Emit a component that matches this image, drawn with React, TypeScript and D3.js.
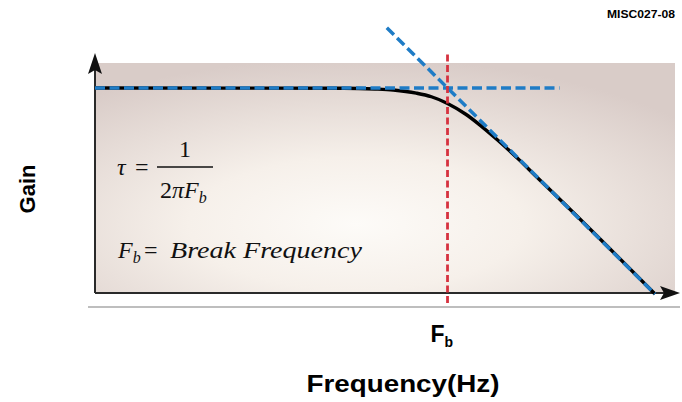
import React from 'react';
import * as d3 from 'd3';

// frequency as a ratio of the break frequency, gain in dB
const curveFreq = [0.0004, 0.1, 0.2, 0.3, 0.5, 0.7, 1, 1.5, 2, 3, 5, 7, 10, 100];
const curveGain = [0, -0.05, -0.2, -0.4, -1, -1.7, -3, -5.1, -7, -10, -14.1, -17, -20, -40];

const flatFreq = [0.0004, 12];
const flatGain = [0, 0];

const slopeFreq = [0.26, 100];
const slopeGain = [11.7, -40];

const breakFreq = 1;
const breakGainSpan = [6.5, -42];

const W = 682;
const H = 402;

const x = d3.scaleLog().domain([0.0004, 100]).range([95, 655]);
const y = d3.scaleLinear().domain([-40, 0]).range([294, 88]);

const line = d3
  .line<[number, number]>()
  .x((d) => x(d[0]))
  .y((d) => y(d[1]));

const zip = (a: number[], b: number[]) => a.map((v, i) => [v, b[i]] as [number, number]);

const BLUE = '#1f7cc6';
const RED = '#d6323f';
const serif = '"Liberation Serif", "Times New Roman", serif';
const sans = '"Liberation Sans", Arial, sans-serif';

const App: React.FC = () => {
  const curvePath = line.curve(d3.curveMonotoneX)(zip(curveFreq, curveGain)) || '';
  const flatPath = line.curve(d3.curveLinear)(zip(flatFreq, flatGain)) || '';
  const slopePath = line.curve(d3.curveLinear)(zip(slopeFreq, slopeGain)) || '';

  const left = 95;
  const right = 675;
  const top = 63;
  const bottom = 293;

  return (
    <svg width={W} height={H} style={{ position: 'absolute', left: 0, top: 0 }}>
      <defs>
        <radialGradient id="bg" cx="45%" cy="70%" r="72%">
          <stop offset="0" stopColor="#fdfbf8" />
          <stop offset="0.4" stopColor="#f6f0ea" />
          <stop offset="1" stopColor="#d9ccc8" />
        </radialGradient>
      </defs>

      <text x={675} y={18} textAnchor="end" fontFamily={sans} fontWeight="bold" fontSize={11}
        textLength={68} lengthAdjust="spacingAndGlyphs">MISC027-08</text>

      {/* plot background */}
      <rect x={left} y={top} width={right - left} height={bottom - top} fill="url(#bg)" />

      {/* gray rule under the plot */}
      <line x1={88} x2={680} y1={307} y2={307} stroke="#a8a8a8" strokeWidth={1.5} />

      {/* axes */}
      <line x1={left} x2={left} y1={bottom} y2={62} stroke="#2a2a2a" strokeWidth={2} />
      <path d={`M${left},53 L${left + 7},74 L${left},70 L${left - 7},74 Z`} fill="#111" />
      <line x1={left} x2={668} y1={bottom} y2={bottom} stroke="#2a2a2a" strokeWidth={2} />
      <path d={`M680,${bottom} L660,${bottom - 7} L664,${bottom} L660,${bottom + 7} Z`} fill="#111" />

      {/* response curve and asymptotes */}
      <path d={curvePath} fill="none" stroke="#000" strokeWidth={3.4} />
      <path d={flatPath} fill="none" stroke={BLUE} strokeWidth={3.5} strokeDasharray="10 4.5" />
      <path d={slopePath} fill="none" stroke={BLUE} strokeWidth={3.5} strokeDasharray="10 4.5" />

      {/* break frequency marker */}
      <line x1={x(breakFreq)} x2={x(breakFreq)} y1={y(breakGainSpan[0])} y2={y(breakGainSpan[1])}
        stroke={RED} strokeWidth={2.8} strokeDasharray="7 3.5" />

      {/* formula */}
      <g fontFamily={serif} fontSize={24} fill="#111">
        <text x={117} y={175} fontStyle="italic">τ</text>
        <text x={135} y={175}>=</text>
        <text x={185} y={157} textAnchor="middle">1</text>
        <line x1={157} x2={213} y1={167} y2={167} stroke="#111" strokeWidth={1.3} />
        <text x={160} y={198}>
          2<tspan fontStyle="italic">πF</tspan>
          <tspan fontStyle="italic" fontSize={16} dy={5}>b</tspan>
        </text>
        <text x={118} y={258} fontStyle="italic">
          F<tspan fontSize={16} dy={5}>b</tspan>
        </text>
        <text x={144} y={258}>=</text>
        <text x={170} y={258} fontStyle="italic" textLength={192} lengthAdjust="spacingAndGlyphs">
          Break Frequency
        </text>
      </g>

      {/* axis labels */}
      <text x={x(breakFreq) - 17} y={342} fontFamily={sans} fontWeight="bold" fontSize={23}>
        F<tspan fontSize={14} dy={5}>b</tspan>
      </text>
      <text x={403} y={392} textAnchor="middle" fontFamily={sans} fontWeight="bold" fontSize={23}
        textLength={193} lengthAdjust="spacingAndGlyphs">Frequency(Hz)</text>
      <text transform="translate(35,189) rotate(-90)" textAnchor="middle" fontFamily={sans}
        fontWeight="bold" fontSize={22}>Gain</text>
    </svg>
  );
};

export default App;
